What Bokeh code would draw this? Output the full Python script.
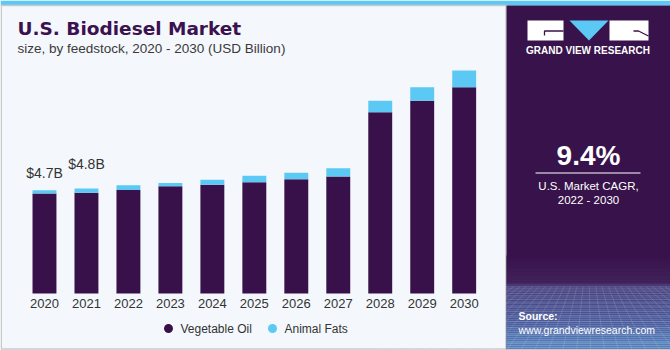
from bokeh.plotting import figure
from bokeh.models import Range1d, ColumnDataSource
from bokeh.core.properties import value
from bokeh.embed import file_html
from bokeh.resources import INLINE

# ---------------- data ----------------
years = [2020, 2021, 2022, 2023, 2024, 2025, 2026, 2027, 2028, 2029, 2030]
year_labels = [str(y) for y in years]
vegetable_oil = [4.57, 4.60, 4.73, 4.90, 4.96, 5.08, 5.22, 5.34, 8.28, 8.80, 9.42]
animal_fats = [0.14, 0.20, 0.21, 0.14, 0.23, 0.30, 0.29, 0.38, 0.52, 0.62, 0.76]
series_names = ["Vegetable Oil", "Animal Fats"]
label_years = [2020, 2021]
label_texts = ["$4.7B", "$4.8B"]
title_text = "U.S. Biodiesel Market"
subtitle_text = "size, by feedstock, 2020 - 2030 (USD Billion)"
cagr_text = "9.4%"
cagr_caption = ["U.S. Market CAGR,", "2022 - 2030"]
brand_text = "GRAND VIEW RESEARCH"
source_texts = ["Source:", "www.grandviewresearch.com"]

# ---------------- style ----------------
DARK = "#38114A"
BLUE = "#5BC9F4"
BG = "#F4F8FC"
PANEL = "#38124A"
TXT = "#333333"
FONT = "Liberation Sans"

p = figure(width=670, height=350, x_range=Range1d(0, 670), y_range=Range1d(350, 0),
           output_backend="svg", toolbar_location=None, min_border=0,
           x_axis_type=None, y_axis_type=None, title=None)
p.grid.visible = False
p.outline_line_color = None
p.background_fill_color = BG
p.border_fill_color = BG

# value / year scales mapped onto the chart area
p.extra_x_ranges = {"yr": Range1d(2018.952, 2034.916)}
p.extra_y_ranges = {"val": Range1d(-2.603, 13.379)}


def txt(x, y, s, size, color, font=FONT, style="normal", align="left"):
    # y is the intended baseline; drawn centred on the cap height
    p.text(x=[x], y=[y - 0.36 * size], text=[s], text_font=value(font),
           text_font_size=f"{size}px", text_font_style=style, text_color=color,
           text_align=align, text_baseline="middle")


# background panels
p.quad(left=[0], right=[670], top=[0], bottom=[5], fill_color=BLUE, line_color=None)
p.quad(left=[0.75], right=[505.5], top=[5], bottom=[348.5], fill_color=BG,
       line_color="#C9C9C9", line_width=1.5)
p.quad(left=[506], right=[670], top=[5], bottom=[350], fill_color=PANEL, line_color=None)

# decorative gradient at the bottom of the right panel
def lerp(c1, c2, t):
    a = [int(c1[i:i + 2], 16) for i in (1, 3, 5)]
    b = [int(c2[i:i + 2], 16) for i in (1, 3, 5)]
    return "#%02x%02x%02x" % tuple(int(round(a[k] + (b[k] - a[k]) * t)) for k in range(3))

stops = [(255, "#38124A"), (283, "#43245E"), (286, "#4E4C88"), (320, "#5A70AE"), (350, "#6CA4DA")]
bl, br, bt, bb, bc = [], [], [], [], []
for (y0, c0), (y1, c1) in zip(stops[:-1], stops[1:]):
    n = max(1, int((y1 - y0) / 2))
    for i in range(n):
        t0 = y0 + (y1 - y0) * i / n
        t1 = y0 + (y1 - y0) * (i + 1) / n
        bl.append(506); br.append(670); bt.append(t0); bb.append(t1)
        bc.append(lerp(c0, c1, (i + 0.5) / n))
p.quad(left=bl, right=br, top=bt, bottom=bb, fill_color=bc, line_color=None)
# grid lines
hy = []
y = 286.0
step = 2.0
while y < 350:
    hy.append(y)
    y += step
    step *= 1.12
p.segment(x0=[506] * len(hy), x1=[670] * len(hy), y0=hy, y1=hy,
          line_color="white", line_alpha=0.13, line_width=1)
vx = list(range(380, 800, 14))
p.segment(x0=[588 + (x - 588) * 0.45 for x in vx], y0=[286] * len(vx),
          x1=vx, y1=[350] * len(vx), line_color="white", line_alpha=0.13, line_width=1)
p.quad(left=[506], right=[670], top=[348.5], bottom=[350], fill_color="#C9C9C9", line_color=None)

# logo
p.quad(left=[527, 609], right=[563, 648], top=[20, 20], bottom=[40, 40],
       fill_color="white", line_color=None)
p.patch(x=[569, 608, 588.5], y=[20, 20, 40], fill_color=BLUE, line_color=None)
p.line(x=[563, 544, 544], y=[30.5, 30.5, 35], line_color=PANEL, line_width=1.3)
p.line(x=[633, 638, 648], y=[30.5, 30.5, 35.5], line_color=PANEL, line_width=1.3)
txt(587.5, 54, brand_text, 10, "white", style="bold", align="center")

# right panel texts
txt(588, 165, cagr_text, 28, "white", style="bold", align="center")
p.segment(x0=[535], x1=[640], y0=[172.5], y1=[172.5], line_color="white", line_width=1)
txt(588, 190, cagr_caption[0], 11.5, "white", align="center")
txt(588, 204, cagr_caption[1], 11.5, "white", align="center")
txt(518, 319, source_texts[0], 10.5, "white", style="bold")
txt(518, 333, source_texts[1], 10.5, "white")

# title
txt(17, 35, title_text, 18.5, "#3B1150", font="DejaVu Sans", style="bold")
txt(17, 53, subtitle_text, 13.5, "#3A3A3A")

# bars
src = ColumnDataSource(dict(year=years, label=year_labels,
                            veg=vegetable_oil, animal=animal_fats,
                            zero=[0] * len(years)))
p.vbar_stack(["veg", "animal"], x="year", width=0.57, color=[DARK, BLUE],
             line_color=None, source=src, x_range_name="yr", y_range_name="val")

# year labels
p.text(x="year", y="zero", text="label", source=src, x_range_name="yr", y_range_name="val",
       text_font=value(FONT), text_font_size="13px", text_color=TXT,
       text_align="center", text_baseline="middle", y_offset=10.5)

# value labels
label_offsets = [-17, -24.5]
for yr, s, off in zip(label_years, label_texts, label_offsets):
    i = years.index(yr)
    p.text(x=[yr], y=[vegetable_oil[i] + animal_fats[i]], text=[s],
           x_range_name="yr", y_range_name="val",
           text_font=value(FONT), text_font_size="14px", text_color=TXT,
           text_align="center", text_baseline="middle", y_offset=off)

# legend
leg_x = [168, 272]
p.scatter(x=leg_x, y=[328, 328], size=9, marker="circle",
          fill_color=[DARK, BLUE], line_color=None)
for lx, name in zip(leg_x, series_names):
    txt(lx + 12, 332.5, name, 12, TXT)

open("out.html", "w").write(file_html(p, INLINE))
